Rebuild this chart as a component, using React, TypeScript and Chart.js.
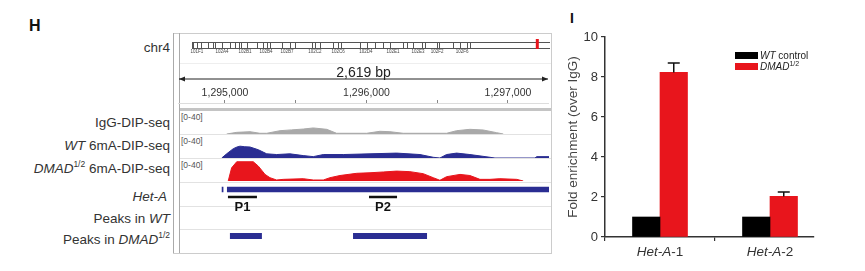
import React, { useEffect, useRef } from 'react';
import { Chart, registerables } from 'chart.js';

Chart.register(...registerables);
const FONT = '"Liberation Sans", Arial, Helvetica, sans-serif';
Chart.defaults.font.family = FONT;

// ================= Panel H : genome browser view =================
const VIEW_START = 1294668;
const VIEW_END = 1297290;
const SPAN_LABEL = '2,619 bp';
const RULER_TICKS = [1295000, 1295500, 1296000, 1296500, 1297000];
const CHR_NAME = 'chr4';
const CHR_LENGTH = 1348131;
const BAND_BOUNDS_KB = [2.6, 18.8, 33.9, 60.3, 79.1, 86.6, 113, 143, 162, 177, 184.5, 207, 245, 267, 282, 294, 339, 369, 388, 452, 463, 482, 531, 550, 561, 633, 659, 689, 719, 746, 795, 810, 832, 866, 877, 923, 930, 983, 1009, 1036, 1047];
const BAND_LABELS = ['101F1', '102A4', '102B1', '102B4', '102B7', '102C2', '102C6', '102D4', '102E1', '102E3', '102F2', '102F6'];
const BAND_LABEL_KB = [18.8, 113, 199.6, 278.7, 357.8, 463, 550, 655, 757, 851, 923, 1017];
const DATA_RANGE = '[0-40]';
const TRACK_MAX = 40;

const IGG_POS = [1295012, 1295083, 1295177, 1295247, 1295295, 1295389, 1295470, 1295553, 1295624, 1295719, 1295789, 1296001, 1296095, 1296166, 1296260, 1296566, 1296637, 1296731, 1296825, 1296920, 1296967];
const IGG_VAL = [0, 3, 4.2, 1.3, 1.3, 6, 7.5, 9, 11, 8.5, 1.3, 1.3, 4.9, 4.2, 1.3, 1.3, 6, 8.5, 7.3, 2.4, 0];

const WT_POS = [1294977, 1295012, 1295059, 1295085, 1295106, 1295140, 1295177, 1295236, 1295295, 1295365, 1295459, 1295553, 1295624, 1295695, 1295836, 1296025, 1296213, 1296378, 1296472, 1296519, 1296566, 1296637, 1296731, 1296873, 1296908, 1297191, 1297203, 1297290];
const WT_VAL = [0, 7.6, 17, 20, 21.5, 20.5, 20, 15, 7.6, 6.3, 7.6, 4.4, 2.5, 6.3, 6.3, 7.6, 8.9, 6.3, 1.3, 0, 6.3, 8.9, 6.3, 1.3, 0, 0, 2.5, 2.5];

const DMAD_POS = [1295023, 1295047, 1295083, 1295200, 1295236, 1295283, 1295318, 1295365, 1295412, 1295553, 1295624, 1295695, 1295742, 1295813, 1295931, 1296025, 1296119, 1296213, 1296307, 1296401, 1296472, 1296519, 1296566, 1296661, 1296731, 1296802, 1296873, 1296943, 1297061, 1297108];
const DMAD_VAL = [0, 24, 35, 35, 27, 12, 6, 1.8, 3, 4.2, 1.8, 1.8, 6, 10, 14, 15, 16.4, 18, 17, 13.3, 6, 1.3, 7.8, 12, 10, 3, 3, 4.2, 3, 0];

const HETA_START = [1294977, 1295014];
const HETA_END = [1294989, 1297290];
const PRIMER_NAMES = ['P1', 'P2'];
const PRIMER_START = [1295021, 1296018];
const PRIMER_END = [1295226, 1296216];
const DMAD_PEAK_START = [1295035, 1295905];
const DMAD_PEAK_END = [1295261, 1296428];

// ================= Panel I : ChIP-qPCR bars =================
const BAR_CATEGORIES = ['Het-A-1', 'Het-A-2'];
const WT_FOLD = [1.0, 1.0];
const DMAD_FOLD = [8.23, 2.03];
const WT_SEM = [0, 0];
const DMAD_SEM = [0.47, 0.22];
const Y_TICKS = [0, 2, 4, 6, 8, 10];

const GRAY = '#a9a9a9';
const BLUE = '#2a2d92';
const RED = '#e8151c';

// layout rows (pixel offsets inside the lower annotation chart)
const HETA_ROW = 7.5;
const PRIMER_ROW = 15;
const PRIMER_LABEL_ROW = 25.5;
const DMAD_PEAK_ROW = 54;

const base = (extra: any) => ({
  animation: false,
  responsive: true,
  maintainAspectRatio: false,
  events: [],
  ...extra,
  plugins: { legend: { display: false }, tooltip: { enabled: false }, ...(extra.plugins || {}) },
});

const viewX = { type: 'linear', display: false, min: VIEW_START, max: VIEW_END };

function trackConfig(pos: number[], val: number[], color: string) {
  return {
    type: 'line',
    data: {
      datasets: [{
        data: pos.map((p, i) => ({ x: p, y: val[i] })),
        borderColor: color, backgroundColor: color, borderWidth: 1,
        pointRadius: 0, fill: 'origin', tension: 0,
      }],
    },
    options: base({
      layout: { padding: 0 },
      scales: { x: viewX, y: { display: false, min: 0, max: TRACK_MAX } },
    }),
  };
}

function rulerConfig() {
  return {
    type: 'line',
    data: { datasets: [] },
    options: base({
      layout: { padding: 0 },
      scales: {
        x: {
          type: 'linear', position: 'top', min: VIEW_START, max: VIEW_END,
          afterBuildTicks: (s: any) => { s.ticks = RULER_TICKS.map(v => ({ value: v })); },
          afterFit: (s: any) => { s.height = 41; },
          ticks: {
            autoSkip: false, maxRotation: 0, padding: 1, font: { size: 10.5 }, color: '#333',
            callback: (v: any) => (Number(v) % 1000 === 0 ? Number(v).toLocaleString('en-US') : ''),
          },
          grid: { drawOnChartArea: false, drawTicks: true, tickLength: 3, color: '#888' },
          border: { display: true, color: '#ddd' },
        },
        y: { display: false },
      },
    }),
    plugins: [{
      id: 'span',
      afterDraw(chart: any) {
        const { ctx } = chart; const sx = chart.scales.x;
        const l = sx.getPixelForValue(VIEW_START) + 1, r = sx.getPixelForValue(VIEW_END) - 1, yy = 17;
        ctx.save();
        ctx.strokeStyle = '#222'; ctx.fillStyle = '#222'; ctx.lineWidth = 1;
        ctx.beginPath(); ctx.moveTo(l, yy); ctx.lineTo(r, yy); ctx.stroke();
        ctx.beginPath(); ctx.moveTo(l, yy); ctx.lineTo(l + 6, yy - 2.5); ctx.lineTo(l + 6, yy + 2.5); ctx.closePath(); ctx.fill();
        ctx.beginPath(); ctx.moveTo(r, yy); ctx.lineTo(r - 6, yy - 2.5); ctx.lineTo(r - 6, yy + 2.5); ctx.closePath(); ctx.fill();
        ctx.font = `14px ${FONT}`; ctx.textAlign = 'center'; ctx.textBaseline = 'middle';
        ctx.fillText(SPAN_LABEL, (l + r) / 2, 11);
        ctx.restore();
      },
    }],
  };
}

function ideogramConfig() {
  return {
    type: 'line',
    data: { datasets: [] },
    options: base({
      layout: { padding: { left: 14, right: 8, top: 0, bottom: 0 } },
      scales: { x: { type: 'linear', display: false, min: 0, max: CHR_LENGTH }, y: { display: false } },
    }),
    plugins: [{
      id: 'ideo',
      afterDraw(chart: any) {
        const { ctx } = chart; const sx = chart.scales.x;
        const l = sx.getPixelForValue(0), r = sx.getPixelForValue(CHR_LENGTH);
        const t = 8.5, b = 14.5;
        ctx.save();
        ctx.strokeStyle = '#555'; ctx.lineWidth = 1;
        ctx.beginPath();
        ctx.moveTo(l, t); ctx.lineTo(r, t); ctx.moveTo(l, b); ctx.lineTo(r, b);
        ctx.moveTo(l + 0.5, t); ctx.lineTo(l + 0.5, b);
        BAND_BOUNDS_KB.forEach(k => {
          const px = Math.round(sx.getPixelForValue(k * 1000)) + 0.5;
          ctx.moveTo(px, t); ctx.lineTo(px, b);
        });
        ctx.stroke();
        ctx.fillStyle = '#444'; ctx.font = `4.5px ${FONT}`; ctx.textAlign = 'center'; ctx.textBaseline = 'middle';
        BAND_LABELS.forEach((lab, i) => ctx.fillText(lab, sx.getPixelForValue(BAND_LABEL_KB[i] * 1000), 18));
        const rx = sx.getPixelForValue(VIEW_START);
        const rw = Math.max(3, sx.getPixelForValue(VIEW_END) - rx);
        ctx.fillStyle = '#e8151c';
        ctx.fillRect(rx, 5, rw, 10);
        ctx.restore();
      },
    }],
  };
}

function seg(s: number, e: number, row: number, color: string, width: number, extra: any = {}) {
  return {
    data: [{ x: s, y: row }, { x: e, y: row }],
    borderColor: color, borderWidth: width, pointRadius: 0, borderCapStyle: 'butt', fill: false, ...extra,
  };
}

function annotationConfig() {
  const datasets: any[] = [];
  HETA_START.forEach((s, i) => datasets.push(seg(s, HETA_END[i], HETA_ROW, BLUE, 5.5)));
  datasets.push(seg(HETA_START[1], HETA_END[1], HETA_ROW, '#ffffff', 1.2, { borderDash: [1.5, 11.8] }));
  PRIMER_START.forEach((s, i) => datasets.push(seg(s, PRIMER_END[i], PRIMER_ROW, '#111', 2.5)));
  DMAD_PEAK_START.forEach((s, i) => datasets.push(seg(s, DMAD_PEAK_END[i], DMAD_PEAK_ROW, BLUE, 6)));
  return {
    type: 'line',
    data: { datasets },
    options: base({
      layout: { padding: 0 },
      scales: { x: viewX, y: { display: false, min: 0, max: 71, reverse: true } },
    }),
    plugins: [{
      id: 'primerLabels',
      afterDraw(chart: any) {
        const { ctx } = chart; const sx = chart.scales.x; const sy = chart.scales.y;
        ctx.save();
        ctx.fillStyle = '#111'; ctx.font = `bold 13px ${FONT}`; ctx.textAlign = 'center'; ctx.textBaseline = 'middle';
        PRIMER_NAMES.forEach((n, i) => ctx.fillText(n, sx.getPixelForValue((PRIMER_START[i] + PRIMER_END[i]) / 2), sy.getPixelForValue(PRIMER_LABEL_ROW)));
        ctx.restore();
      },
    }],
  };
}

function barConfig() {
  const sems = [WT_SEM, DMAD_SEM];
  return {
    type: 'bar',
    data: {
      datasets: [
        { label: 'WT control', data: WT_FOLD.map((v, i) => ({ x: i, y: v })), backgroundColor: '#000000', barThickness: 27.5 },
        { label: 'DMAD1/2', data: DMAD_FOLD.map((v, i) => ({ x: i, y: v })), backgroundColor: RED, barThickness: 27.5 },
      ],
    },
    options: base({
      layout: { padding: { top: 37, right: 51, left: 0, bottom: 0 } },
      scales: {
        x: {
          type: 'linear', min: -0.5, max: 1.4, offset: false,
          afterBuildTicks: (s: any) => { s.ticks = BAR_CATEGORIES.map((_, i) => ({ value: i })); },
          afterFit: (s: any) => { s.height = 34; },
          ticks: { display: false },
          grid: { drawOnChartArea: false, drawTicks: true, tickLength: 4, color: '#333', lineWidth: 1.2 },
          border: { color: '#333', width: 1.5 },
        },
        y: {
          min: 0, max: 10,
          afterBuildTicks: (s: any) => { s.ticks = Y_TICKS.map(v => ({ value: v })); },
          afterFit: (s: any) => { s.width = 45; },
          ticks: { font: { size: 13 }, color: '#333', padding: 3 },
          grid: { drawOnChartArea: false, drawTicks: true, tickLength: 4, color: '#333', lineWidth: 1.2 },
          border: { color: '#333', width: 1.5 },
          title: { display: true, text: 'Fold enrichment (over IgG)', font: { size: 13.5 }, color: '#444', padding: { top: 5, bottom: 0 } },
        },
      },
    }),
    plugins: [{
      id: 'errorsAndLabels',
      afterDatasetsDraw(chart: any) {
        const { ctx } = chart; const sy = chart.scales.y;
        ctx.save();
        ctx.strokeStyle = '#111'; ctx.lineWidth = 1.5;
        chart.data.datasets.forEach((ds: any, di: number) => {
          chart.getDatasetMeta(di).data.forEach((bar: any, i: number) => {
            const e = sems[di][i];
            if (!e) return;
            const top = sy.getPixelForValue(ds.data[i].y + e);
            ctx.beginPath();
            ctx.moveTo(bar.x, bar.y); ctx.lineTo(bar.x, top);
            ctx.moveTo(bar.x - 6, top); ctx.lineTo(bar.x + 6, top);
            ctx.stroke();
          });
        });
        ctx.restore();
      },
      afterDraw(chart: any) {
        const { ctx } = chart; const sx = chart.scales.x;
        const y = chart.chartArea.bottom + 15;
        ctx.save();
        ctx.fillStyle = '#333'; ctx.textBaseline = 'middle'; ctx.textAlign = 'left';
        BAR_CATEGORIES.forEach((lab, i) => {
          const cut = lab.lastIndexOf('-');
          const ital = lab.slice(0, cut), rest = lab.slice(cut);
          ctx.font = `italic 13.5px ${FONT}`;
          const w1 = ctx.measureText(ital).width;
          ctx.font = `13.5px ${FONT}`;
          const w2 = ctx.measureText(rest).width;
          const x0 = sx.getPixelForValue(i) - (w1 + w2) / 2;
          ctx.font = `italic 13.5px ${FONT}`; ctx.fillText(ital, x0, y);
          ctx.font = `13.5px ${FONT}`; ctx.fillText(rest, x0 + w1, y);
        });
        ctx.restore();
      },
    }],
  };
}

function ChartBox({ x, y, w, h, make }: any) {
  const ref = useRef<HTMLCanvasElement>(null);
  useEffect(() => {
    const c = new Chart(ref.current as HTMLCanvasElement, make());
    return () => c.destroy();
  }, []);
  return (
    <div style={{ position: 'absolute', left: x, top: y, width: w, height: h }}>
      <canvas ref={ref} />
    </div>
  );
}

function Rect({ x, y, w, h, c }: any) {
  return <div style={{ position: 'absolute', left: x, top: y, width: w, height: h, background: c }} />;
}

function Label({ right, cy, size = 13.5, children, color = '#333' }: any) {
  return (
    <div style={{ position: 'absolute', right: 865 - right, top: cy - size / 2, fontSize: size, lineHeight: `${size}px`, whiteSpace: 'nowrap', color, textAlign: 'right' }}>
      {children}
    </div>
  );
}

const sup = (t: string, size = 8.5) => <sup style={{ fontSize: size, verticalAlign: 'top', lineHeight: 0, position: 'relative', top: 2 }}>{t}</sup>;

export default function App() {
  return (
    <div style={{ position: 'fixed', left: 0, top: 0, width: 865, height: 271, background: '#fff', overflow: 'hidden', fontFamily: FONT }}>
      {/* panel letters */}
      <div style={{ position: 'absolute', left: 29, top: 17.5, fontSize: 16, lineHeight: '16px', fontWeight: 'bold', color: '#111' }}>H</div>
      <div style={{ position: 'absolute', left: 570, top: 11, fontSize: 14, lineHeight: '14px', fontWeight: 'bold', color: '#111' }}>I</div>

      {/* browser frame */}
      <Rect x={173} y={33} w={379} h={1} c="#ccc" />
      <Rect x={173} y={33} w={1} h={221} c="#aaa" />
      <Rect x={179} y={33} w={1} h={221} c="#aaa" />
      <Rect x={551} y={33} w={1} h={221} c="#ccc" />
      <Rect x={180} y={63} w={371} h={1} c="#eee" />
      <Rect x={180} y={107.5} w={371} h={3} c="#c4c4c4" />
      <Rect x={180} y={134} w={371} h={1} c="#e2e2e2" />
      <Rect x={180} y={158} w={371} h={1} c="#e2e2e2" />
      <Rect x={180} y={182} w={371} h={1} c="#e2e2e2" />
      <Rect x={180} y={206} w={371} h={1} c="#e2e2e2" />
      <Rect x={180} y={229} w={371} h={1} c="#e2e2e2" />
      <Rect x={173} y={253} w={379} h={1} c="#ccc" />

      {/* track names */}
      <Label right={170} cy={48}>{CHR_NAME}</Label>
      <Label right={170} cy={123}>IgG-DIP-seq</Label>
      <Label right={170} cy={146}><i>WT</i> 6mA-DIP-seq</Label>
      <Label right={170} cy={169}><i>DMAD</i>{sup('1/2')} 6mA-DIP-seq</Label>
      <Label right={167} cy={197}><i>Het-A</i></Label>
      <Label right={170} cy={219}>Peaks in <i>WT</i></Label>
      <Label right={170} cy={240}>Peaks in <i>DMAD</i>{sup('1/2')}</Label>

      {/* data range labels */}
      <div style={{ position: 'absolute', left: 181, top: 112.5, fontSize: 8.5, lineHeight: '9px', color: '#555' }}>{DATA_RANGE}</div>
      <div style={{ position: 'absolute', left: 181, top: 136.5, fontSize: 8.5, lineHeight: '9px', color: '#555' }}>{DATA_RANGE}</div>
      <div style={{ position: 'absolute', left: 181, top: 160.5, fontSize: 8.5, lineHeight: '9px', color: '#555' }}>{DATA_RANGE}</div>

      <ChartBox x={178} y={34} w={380} h={24} make={ideogramConfig} />
      <ChartBox x={178} y={62} w={371} h={44} make={rulerConfig} />
      <ChartBox x={178} y={112} w={371} h={22} make={() => trackConfig(IGG_POS, IGG_VAL, GRAY)} />
      <ChartBox x={178} y={136} w={371} h={22} make={() => trackConfig(WT_POS, WT_VAL, BLUE)} />
      <ChartBox x={178} y={159} w={371} h={22} make={() => trackConfig(DMAD_POS, DMAD_VAL, RED)} />
      <ChartBox x={178} y={182} w={371} h={71} make={annotationConfig} />

      {/* panel I */}
      <ChartBox x={560} y={0} w={305} h={271} make={barConfig} />
      <div style={{ position: 'absolute', left: 735, top: 52, width: 23, height: 7, background: '#000' }} />
      <div style={{ position: 'absolute', left: 735, top: 62.5, width: 23, height: 7, background: RED }} />
      <div style={{ position: 'absolute', left: 760, top: 50.5, fontSize: 10, lineHeight: '10px', color: '#222', whiteSpace: 'nowrap' }}><i>WT</i> control</div>
      <div style={{ position: 'absolute', left: 760, top: 61.5, fontSize: 10, lineHeight: '10px', color: '#222', whiteSpace: 'nowrap' }}><i>DMAD</i>{sup('1/2', 7)}</div>
    </div>
  );
}
